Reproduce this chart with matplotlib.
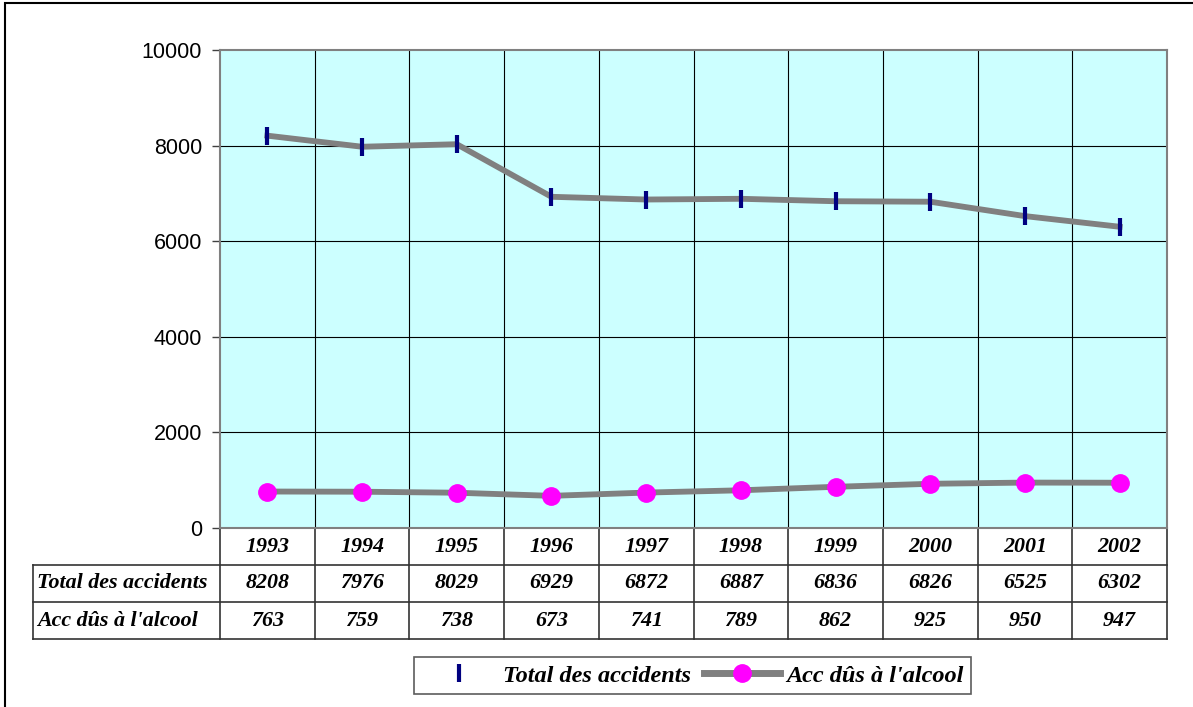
import matplotlib.pyplot as plt
from matplotlib.lines import Line2D
from matplotlib.patches import Rectangle

years = ["1993", "1994", "1995", "1996", "1997", "1998", "1999", "2000", "2001", "2002"]
total_accidents = [8208, 7976, 8029, 6929, 6872, 6887, 6836, 6826, 6525, 6302]
alcool_accidents = [763, 759, 738, 673, 741, 789, 862, 925, 950, 947]
series_names = ["Total des accidents", "Acc dûs à l'alcool"]
y_ticks = [0, 2000, 4000, 6000, 8000, 10000]

W, H = 1193, 707
fig = plt.figure(figsize=(W / 100, H / 100), dpi=100)

# plot area in pixel coords of the reference
left, right, top, bottom = 220, 1167, 50, 528
ax = fig.add_axes([left / W, 1 - bottom / H, (right - left) / W, (bottom - top) / H])
ax.set_facecolor("#CCFFFF")

serif = {"family": "Liberation Serif", "weight": "bold", "style": "italic"}

xs = [i + 0.5 for i in range(len(years))]
ax.plot(xs, total_accidents, color="#808080", lw=4.2, marker="|", ms=13.5,
        mew=3, mec="#000080", zorder=3, solid_joinstyle="round")
ax.plot(xs, alcool_accidents, color="#808080", lw=4.2, marker="o", ms=12.5,
        mfc="#FF00FF", mec="#FF00FF", zorder=3)

ax.set_xlim(0, len(years))
ax.set_ylim(0, 10000)
ax.set_yticks(y_ticks)
ax.set_yticklabels([str(v) for v in y_ticks], family="Liberation Sans", fontsize=15.5)
ax.tick_params(axis="y", length=6, width=1, color="#404040", pad=7)
ax.set_xticks([])

# grid
for v in y_ticks[1:-1]:
    ax.axhline(v, color="black", lw=0.8, zorder=1)
for i in range(1, len(years)):
    ax.axvline(i, color="black", lw=0.8, zorder=1)
for s in ax.spines.values():
    s.set_color("#808080")
    s.set_linewidth(1.5)

# data table under the plot
tr = ax.get_xaxis_transform()
row_h = 37 / (bottom - top)
lab_x = (33 - left) / ((right - left) / len(years))
tbl_kw = dict(transform=tr, clip_on=False, color="#333333", lw=1.2)
for k in range(1, 4):
    ax.plot([lab_x, len(years)], [-k * row_h, -k * row_h], **tbl_kw)
for i in range(len(years) + 1):
    ax.plot([i, i], [0, -3 * row_h], **tbl_kw)
ax.plot([lab_x, lab_x], [-row_h, -3 * row_h], **tbl_kw)

rows = [years, [str(v) for v in total_accidents], [str(v) for v in alcool_accidents]]
for r, vals in enumerate(rows):
    yc = -(r + 0.5) * row_h
    for x, t in zip(xs, vals):
        ax.text(x, yc, t, transform=tr, ha="center", va="center", fontsize=15.8, **serif)
for r, name in enumerate(series_names):
    ax.text(lab_x + 0.04, -(r + 1.5) * row_h, name, transform=tr, ha="left",
            va="center", fontsize=15.8, **serif)

# legend
handles = [
    Line2D([], [], ls="none", marker="|", ms=13.5, mew=3, mec="#000080"),
    Line2D([], [], color="#808080", lw=5, marker="o", ms=12.5, mfc="#FF00FF", mec="#FF00FF"),
]
leg = fig.legend(handles, series_names, loc="center",
                 bbox_to_anchor=((410 + 975) / 2 / W, 1 - 675.5 / H),
                 ncol=2, frameon=True, fancybox=False, handlelength=3.1,
                 handletextpad=0.25, columnspacing=0.55, borderpad=0.3,
                 borderaxespad=0, prop={"family": "Liberation Serif", "weight": "bold",
                                        "style": "italic", "size": 17.5})
leg.get_frame().set_edgecolor("#333333")
leg.get_frame().set_linewidth(1.2)

# outer chart border
fig.patches.append(Rectangle((5 / W, -0.1), 1.2, 1 - 3 / H + 0.1, transform=fig.transFigure,
                             fill=False, ec="black", lw=1.5))

fig.savefig("out.png", dpi=100)
